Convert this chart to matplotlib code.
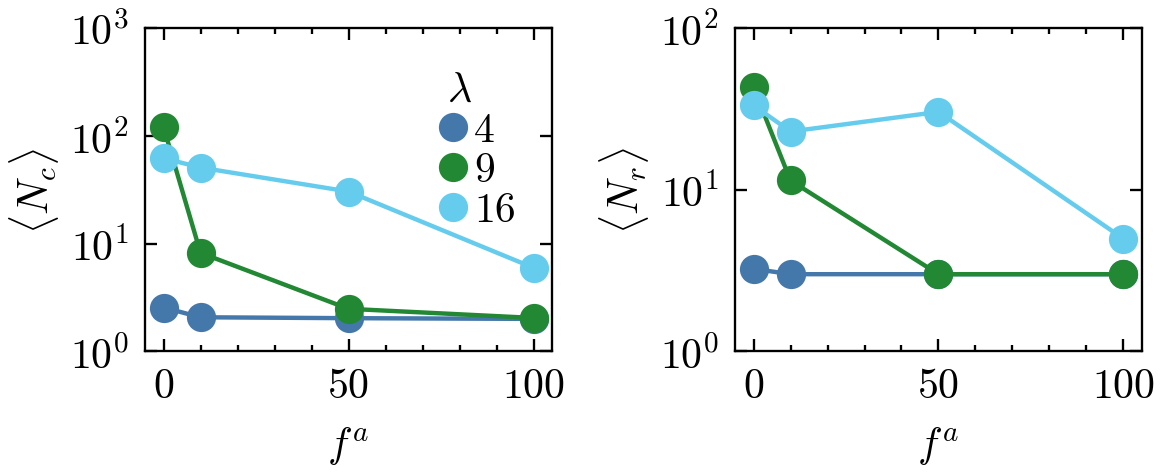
import matplotlib
matplotlib.use("Agg")
import matplotlib.pyplot as plt
from matplotlib.ticker import MultipleLocator, LogLocator, NullLocator
from matplotlib.lines import Line2D

plt.rcParams.update({
    "font.family": "serif",
    "font.serif": ["cmr10", "DejaVu Serif"],
    "mathtext.fontset": "cm",
    "axes.formatter.use_mathtext": True,
    "font.size": 9,
    "axes.linewidth": 0.5,
})

# Data
fa = [0, 10, 50, 100]
lambdas = ["4", "9", "16"]
colors = ["#4477AA", "#228833", "#66CCEE"]

Nc_4 = [2.55, 2.07, 2.03, 2.0]
Nc_9 = [121, 8.2, 2.48, 2.04]
Nc_16 = [62, 50.7, 30.4, 5.96]

Nr_4 = [3.24, 3.0, 3.0, 3.0]
Nr_9 = [42.9, 11.4, 3.0, 3.0]
Nr_16 = [33.3, 22.9, 30.3, 4.97]

fig = plt.figure(figsize=(3.5, 1.416), dpi=334)
W, H = 1169, 473
ax1 = fig.add_axes([145 / W, (H - 352.3) / H, 407 / W, 323.3 / H])
ax2 = fig.add_axes([735 / W, (H - 352.3) / H, 407 / W, 323.3 / H])

for ax, series, ylab, ylim in [
    (ax1, [Nc_4, Nc_9, Nc_16], r"$\langle N_c \rangle$", (1, 1000)),
    (ax2, [Nr_4, Nr_9, Nr_16], r"$\langle N_r \rangle$", (1, 100)),
]:
    for vals, c, lab in zip(series, colors, lambdas):
        ax.plot(fa, vals, "-o", color=c, lw=0.95, ms=6.3, mew=0, label=lab)
    ax.set_yscale("log")
    ax.set_ylim(*ylim)
    ax.set_xlim(-5, 105)
    ax.xaxis.set_major_locator(MultipleLocator(50))
    ax.xaxis.set_minor_locator(MultipleLocator(10))
    ax.yaxis.set_major_locator(LogLocator(base=10, numticks=10))
    ax.yaxis.set_minor_locator(NullLocator())
    ax.tick_params(which="both", direction="in", top=True, right=True, width=0.5)
    ax.tick_params(which="major", length=2.6, pad=3.5)
    ax.tick_params(which="minor", length=1.2)
    ax.set_xlabel(r"$f^a$", labelpad=4.0)
    ax.set_ylabel(ylab, labelpad=1.9)

leg_handles = [Line2D([], [], marker="o", ls="none", color=c, ms=6.3, mew=0) for c in colors]
leg = ax1.legend(leg_handles, lambdas, title=r"$\;\lambda$", frameon=False,
                 loc="upper right", bbox_to_anchor=(0.983, 0.955),
                 handlelength=0.8, handletextpad=0.1, labelspacing=0.06,
                 borderpad=0.2, title_fontsize=9)
leg._legend_box.align = "left"

fig.savefig("out.png", dpi=334)
